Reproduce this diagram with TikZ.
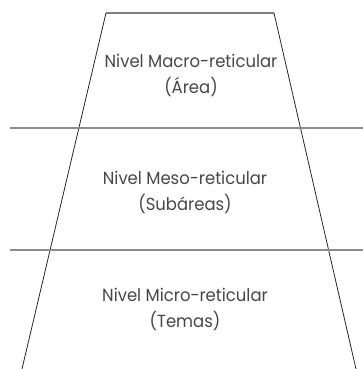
\documentclass[tikz,border=0pt]{standalone}
\usepackage{fontspec}
\setmainfont{Poppins}
\begin{document}
\begin{tikzpicture}[x=1pt,y=-1pt,
  side/.style={draw=black!85,line width=0.8pt},
  divider/.style={draw=black!45,line width=1.3pt},
  topedge/.style={draw=black!50,line width=1.3pt},
  label/.style={text=black!72,font=\fontsize{17.5}{26}\selectfont,align=center,
    inner sep=0pt,xscale=0.94}]
  \useasboundingbox (0,0) rectangle (363,369);
  % trapezoid corners
  \coordinate (tl) at (106,13);
  \coordinate (tr) at (274,13);
  \coordinate (bl) at (22,369);
  \coordinate (br) at (356,369);
  \draw[topedge] (tl) -- (tr);
  \draw[side] (tl) -- (bl);
  \draw[side] (tr) -- (br);
  % level dividers
  \coordinate (d1a) at (10,128);
  \coordinate (d1b) at (363,128);
  \coordinate (d2a) at (10,250);
  \coordinate (d2b) at (363,250);
  \draw[divider] (d1a) -- (d1b);
  \draw[divider] (d2a) -- (d2b);
  % level labels
  \node[label] (macro) at (191,75) {Nivel Macro-reticular\\(Área)};
  \node[label] (meso) at (185,192) {Nivel Meso-reticular\\(Subáreas)};
  \node[label] (micro) at (185,309) {Nivel Micro-reticular\\(Temas)};
\end{tikzpicture}
\end{document}
